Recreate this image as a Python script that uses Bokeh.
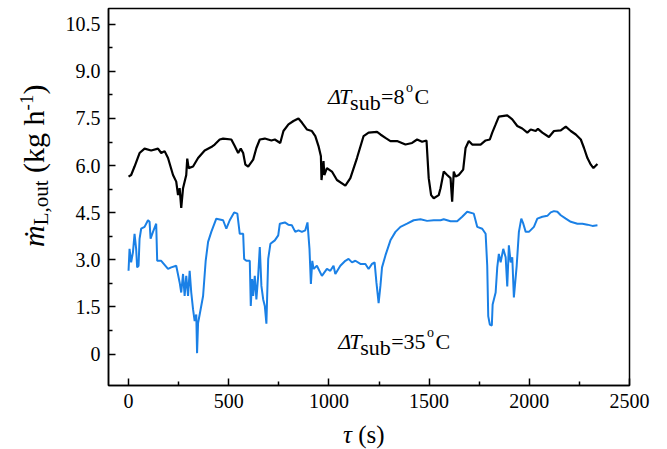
from bokeh.plotting import figure
from bokeh.models import FixedTicker, Label, Div
from bokeh.layouts import row, column
from bokeh.embed import file_html
from bokeh.resources import INLINE

# ---------------- data ----------------
black_t = [0,13,30,55,80,113,147,163,180,197,222,238,247,255,263,272,288,293,300,322,
           347,380,413,430,455,472,513,530,547,560,572,583,597,622,638,655,680,713,730,757,
           773,798,823,848,865,890,915,932,948,960,963,973,977,990,1015,1040,1082,1107,1140,1173,
           1198,1240,1257,1282,1307,1340,1382,1415,1440,1465,1487,1498,1510,1523,1548,1557,1573,1590,1607,1615,
           1623,1632,1648,1670,1682,1698,1715,1757,1782,1803,1815,1832,1848,1890,1915,1940,1965,1990,2007,2032,
           2043,2065,2098,2123,2157,2182,2207,2232,2257,2273,2290,2307,2320,2340]
black_v = [5.65,5.70,5.97,6.40,6.54,6.48,6.54,6.40,6.46,6.24,
           5.70,5.49,5.06,5.28,4.65,5.28,5.70,6.22,5.92,5.97,
           6.24,6.48,6.59,6.67,6.83,6.86,6.83,6.62,6.40,6.54,
           6.40,6.03,5.97,6.19,6.56,6.83,6.86,6.80,6.83,6.72,
           7.10,7.31,7.42,7.50,7.37,7.15,7.10,6.94,6.62,6.30,
           5.54,6.14,5.70,5.92,5.81,5.54,5.36,5.60,6.24,6.94,
           7.05,7.07,6.99,6.88,6.78,6.78,6.67,6.72,6.83,6.76,
           6.80,5.60,5.06,4.96,5.06,5.28,5.81,5.70,5.60,4.85,
           5.81,5.65,5.70,5.87,6.56,6.78,6.67,6.67,6.80,6.83,
           7.05,7.31,7.56,7.60,7.47,7.26,7.18,7.05,7.15,7.10,
           7.17,7.05,6.91,7.10,7.12,7.24,7.10,6.99,6.83,6.56,
           6.24,6.03,5.92,6.05]

blue_t = [0,5,13,22,30,38,43,50,55,63,80,97,105,110,122,138,143,163,197,213,
          238,255,263,272,280,288,297,305,313,322,330,338,342,347,355,372,385,397,413,438,
          472,488,505,527,543,555,572,577,588,605,610,617,622,630,638,647,655,663,672,680,
          688,697,708,730,747,755,780,797,815,832,848,865,882,893,903,910,917,923,940,965,
          990,1007,1023,1032,1057,1082,1098,1115,1132,1157,1182,1198,1215,1228,1237,1248,1257,1265,1282,1307,
          1332,1357,1390,1423,1457,1490,1523,1557,1573,1607,1640,1665,1690,1723,1740,1765,1782,1790,1795,1803,
          1813,1817,1832,1840,1848,1857,1870,1882,1890,1898,1907,1915,1923,1937,1948,1960,1970,1982,1998,2023,
          2040,2065,2090,2107,2123,2140,2157,2182,2207,2240,2265,2290,2315,2340]
blue_v = [2.65,3.35,2.92,3.24,3.83,3.35,2.76,2.81,3.67,3.99,
          4.05,4.26,4.21,3.67,3.89,4.15,2.97,2.97,2.71,2.76,
          2.81,2.28,1.96,2.55,1.85,2.49,1.85,2.65,1.96,1.42,
          1.05,1.26,0.03,0.99,1.26,1.85,2.97,3.57,3.89,4.31,
          4.26,3.99,4.26,4.51,4.47,3.83,3.83,3.03,2.97,2.97,
          1.53,2.39,1.85,2.49,1.74,2.49,3.41,2.17,1.74,1.53,
          0.97,3.03,3.51,3.62,3.78,4.15,4.19,4.12,4.10,3.89,
          3.94,3.89,3.94,4.19,3.35,2.23,2.97,2.71,2.81,2.49,
          2.71,2.65,2.81,2.55,2.81,2.97,3.03,2.92,2.97,2.87,
          2.87,2.71,2.87,2.92,2.28,1.62,2.17,2.76,3.14,3.62,
          3.89,4.05,4.15,4.26,4.29,4.24,4.26,4.26,4.29,4.23,
          4.23,4.37,4.53,4.47,4.05,3.99,3.83,2.81,1.21,0.94,
          0.91,1.58,1.96,2.76,3.19,2.92,3.35,3.08,2.15,3.46,
          2.92,3.08,1.80,2.81,3.89,4.31,4.15,3.89,3.89,4.05,
          4.31,4.37,4.40,4.51,4.55,4.53,4.42,4.31,4.21,4.15,
          4.15,4.12,4.08,4.10]

x_ticks = [0, 500, 1000, 1500, 2000, 2500]
x_minor = [250, 750, 1250, 1750, 2250]
y_ticks = [0, 1.5, 3.0, 4.5, 6.0, 7.5, 9.0, 10.5]
y_tick_labels = ["0", "1.5", "3.0", "4.5", "6.0", "7.5", "9.0", "10.5"]
y_minor = [0.75, 2.25, 3.75, 5.25, 6.75, 8.25, 9.75]

ann_top = ("Δ", "T", "sub", "=8", "o", "C")
ann_bot = ("Δ", "T", "sub", "=35", "o", "C")
ann_top_pos = (996, 8.20)
ann_bot_pos = (1046, 0.40)

FONT = "Liberation Serif"
BLUE = "#1a80e6"

# ---------------- figure ----------------
p = figure(width=611, height=420, x_range=(-100, 2500), y_range=(-1, 11),
           output_backend="svg", toolbar_location=None,
           min_border_left=52, min_border_right=38, min_border_top=8, min_border_bottom=35)
p.grid.visible = False
p.background_fill_color = "white"
p.border_fill_color = "white"
p.outline_line_color = "black"
p.outline_line_width = 1.5

p.xaxis.ticker = FixedTicker(ticks=x_ticks, minor_ticks=x_minor)
p.yaxis.ticker = FixedTicker(ticks=y_ticks, minor_ticks=y_minor)
p.yaxis.major_label_overrides = {t: l for t, l in zip(y_ticks, y_tick_labels)}
for ax in (p.xaxis[0], p.yaxis[0]):
    ax.axis_line_width = 1.5
    ax.axis_line_color = "black"
    ax.major_tick_in = 7
    ax.major_tick_out = 0
    ax.minor_tick_in = 4
    ax.minor_tick_out = 0
    ax.major_tick_line_width = 1.5
    ax.minor_tick_line_width = 1.5
    ax.major_label_text_font = FONT
    ax.major_label_text_font_size = "20px"
    ax.major_label_text_color = "black"
p.xaxis.major_label_standoff = 8
p.yaxis.major_label_standoff = 8

p.line(x=blue_t, y=blue_v, line_color=BLUE, line_width=2)
p.line(x=black_t, y=black_v, line_color="black", line_width=2.2)

# ---------------- annotations (rich text built from pieces) ----------------
def add_ann(pieces, pos):
    delta, tee, sub, eq, deg, c = pieces
    x, y = pos
    eq_off = 53
    eq_w = 12.4 + 11 * (len(eq) - 1)
    o_off = eq_off + eq_w + 1.5
    c_off = o_off + 8.5
    specs = [
        (delta, 0, 0, "22px", "italic"),
        (tee, 11, 0, "22px", "italic"),
        (sub, 22, -6, "22px", "normal"),
        (eq, eq_off, 0, "22px", "normal"),
        (deg, o_off, 9, "14px", "normal"),
        (c, c_off, 0, "22px", "normal"),
    ]
    for txt, dx, dy, size, style in specs:
        p.add_layout(Label(x=x, y=y, x_offset=dx, y_offset=dy, text=txt,
                           text_font=FONT, text_font_size=size, text_font_style=style,
                           text_color="black", text_baseline="alphabetic", text_align="left"))

add_ann(ann_top, ann_top_pos)
add_ann(ann_bot, ann_bot_pos)

# ---------------- axis titles as rich HTML text ----------------
SERIF = "font-family:Liberation Serif,Times New Roman,serif;"
def span(txt, size, extra=""):
    return '<span style="' + SERIF + 'font-size:' + size + ';' + extra + '">' + txt + '</span>'

ylab_html = (
    '<div style="position:relative;width:56px;height:420px;overflow:visible;' + SERIF + '">'
    '<div style="position:absolute;left:19px;top:247px;transform:rotate(-90deg);'
    'transform-origin:0 0;white-space:pre;' + SERIF +
    'font-size:29px;line-height:1;color:black;">'
    + span("ṁ", "30px", "font-style:italic;")
    + span("L,out", "21px", "position:relative;top:4px;")
    + span(" (kg h", "30px", "position:relative;top:0px;")
    + span("-1", "19px", "position:relative;top:-11px;")
    + span(")", "30px", "position:relative;top:0px;")
    + '</div></div>'
)
xlab_html = (
    '<div style="position:relative;width:667px;height:29px;overflow:visible;' + SERIF + '">'
    '<div style="position:absolute;left:343px;top:2px;white-space:pre;' + SERIF +
    'font-size:25px;line-height:1;color:black;">'
    + span("τ", "25px", "font-style:italic;")
    + span(" (s)", "25px", "position:relative;top:0px;")
    + '</div></div>'
)
ydiv = Div(text=ylab_html, width=56, height=420, margin=0)
xdiv = Div(text=xlab_html, width=667, height=29, margin=0)

layout = column(row(ydiv, p, spacing=0), xdiv, spacing=0)

open("out.html", "w").write(file_html(layout, INLINE))
